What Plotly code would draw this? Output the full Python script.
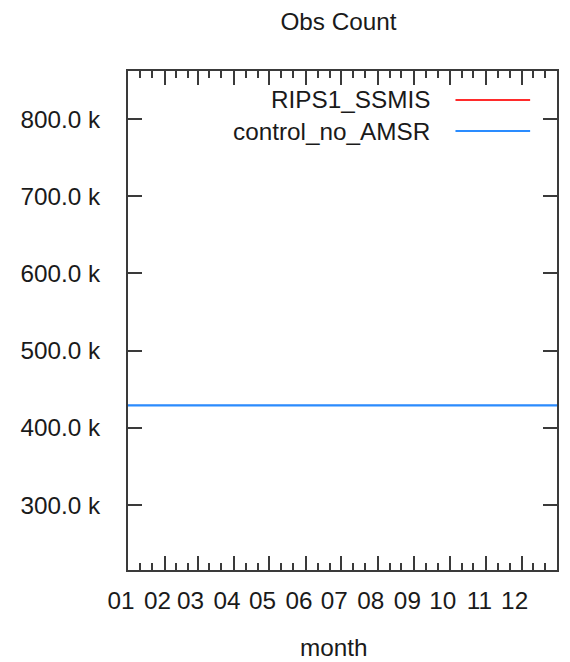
import plotly.graph_objects as go
import pandas as pd

# ---- data ----
dates = ["2018-01-01", "2018-02-01", "2018-03-01", "2018-04-01", "2018-05-01", "2018-06-01",
         "2018-07-01", "2018-08-01", "2018-09-01", "2018-10-01", "2018-11-01", "2018-12-01",
         "2018-12-31"]
rips1_ssmis = [429000, 429000, 429000, 429000, 429000, 429000, 429000,
               429000, 429000, 429000, 429000, 429000, 429000]
control_no_amsr = [429000, 429000, 429000, 429000, 429000, 429000, 429000,
                   429000, 429000, 429000, 429000, 429000, 429000]
series_names = ["RIPS1_SSMIS", "control_no_AMSR"]
series_colors = ["#ff2b2b", "#2a8cff"]
series_widths = [1, 2.2]
y_tickvals = [300000, 400000, 500000, 600000, 700000, 800000]
y_ticktext = ["300.0 k", "400.0 k", "500.0 k", "600.0 k", "700.0 k", "800.0 k"]

FONT = "Liberation Sans"
FS = 24.3
AX = "#3a3a3a"
TXT = "#1a1a1a"

fig = go.Figure()
for name, vals, col, w in zip(series_names, [rips1_ssmis, control_no_amsr], series_colors, series_widths):
    fig.add_trace(go.Scatter(x=dates, y=vals, mode="lines", name=name,
                             line=dict(color=col, width=w), showlegend=False))

# minor ticks on the 11th and 21st of each month
minor_vals = []
for m in pd.date_range("2018-01-01", "2018-12-01", freq="MS"):
    minor_vals += [(m + pd.Timedelta(days=10)).strftime("%Y-%m-%d"),
                   (m + pd.Timedelta(days=20)).strftime("%Y-%m-%d")]

fig.update_layout(
    width=570, height=662,
    margin=dict(l=128, r=11, t=71, b=92),
    paper_bgcolor="white", plot_bgcolor="white",
    font=dict(family=FONT, size=FS, color=TXT),
    title=dict(text="Obs Count", x=338.5 / 570, y=1 - 21 / 662, xref="container",
               yref="container", xanchor="center", yanchor="middle",
               font=dict(family=FONT, size=FS, color=TXT)),
    xaxis=dict(
        type="date", range=["2018-01-01", "2018-12-31"],
        tick0="2018-01-01", dtick="M1", tickformat="%m",
        ticks="inside", ticklen=14, tickwidth=2, tickcolor=AX,
        showline=True, linecolor=AX, linewidth=2, mirror="allticks",
        showgrid=False, zeroline=False, ticklabelshift=-7, ticklabelstandoff=8,
        tickfont=dict(family=FONT, size=FS, color=TXT),
        minor=dict(tickmode="array", tickvals=minor_vals, ticks="inside",
                   ticklen=7, tickwidth=2, tickcolor=AX, showgrid=False),
    ),
    yaxis=dict(
        range=[215800, 862200],
        tickmode="array", tickvals=y_tickvals, ticktext=y_ticktext,
        ticks="inside", ticklen=14, tickwidth=2, tickcolor=AX,
        showline=True, linecolor=AX, linewidth=2, mirror="allticks",
        showgrid=False, zeroline=False, ticklabelstandoff=21,
        tickfont=dict(family=FONT, size=FS, color=TXT),
    ),
)

# x axis title
fig.add_annotation(text="month", x=(335 - 128) / 431, y=(570 - 647) / 499,
                   xref="paper", yref="paper", xanchor="center", yanchor="middle",
                   showarrow=False, font=dict(family=FONT, size=FS, color=TXT))

# gnuplot-style legend: right-aligned text, sample line on the right
legend_rows = [(570 - 100) / 499, (570 - 131) / 499]
for name, col, yy in zip(series_names, series_colors, legend_rows):
    fig.add_annotation(text=name, x=(433 - 128) / 431, y=yy, xref="paper", yref="paper",
                       xanchor="right", yanchor="middle", showarrow=False,
                       font=dict(family=FONT, size=FS, color=TXT))
    fig.add_shape(type="line", xref="paper", yref="paper",
                  x0=(457 - 128) / 431, x1=(532 - 128) / 431, y0=yy, y1=yy,
                  line=dict(color=col, width=2))

fig.write_html("out.html")
